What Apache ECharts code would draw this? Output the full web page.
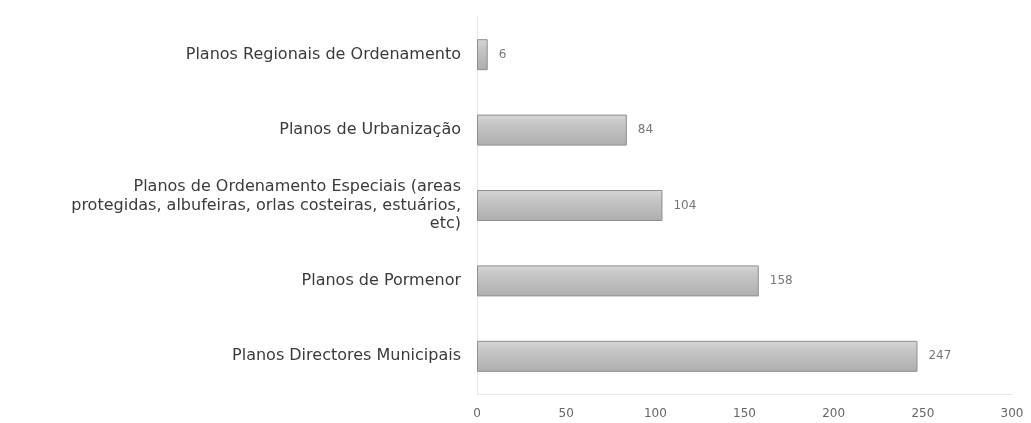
<!DOCTYPE html>
<html>
<head>
<meta charset="utf-8">
<script src="https://cdn.jsdelivr.net/npm/echarts@6/dist/echarts.min.js"></script>
<style>
html,body{margin:0;padding:0;background:#fff;}
#chart{width:1031px;height:423px;}
</style>
</head>
<body>
<div id="chart"></div>
<script>
// categories bottom to top
var categories = [
	'Planos Directores Municipais',
	'Planos de Pormenor',
	'Planos de Ordenamento Especiais (areas\nprotegidas, albufeiras, orlas costeiras, estuários,\netc)',
	'Planos de Urbanização',
	'Planos Regionais de Ordenamento'
];
var values = [247, 158, 104, 84, 6];
var xTicks = [0, 50, 100, 150, 200, 250, 300];

var chart = echarts.init(document.getElementById('chart'));
chart.setOption({
	animation: false,
	grid: {left: 477, right: 19, top: 17, bottom: 29},
	xAxis: {
		type: 'value',
		min: xTicks[0],
		max: xTicks[xTicks.length - 1],
		interval: 50,
		axisLine: {show: true, lineStyle: {color: '#e6e6e6'}},
		axisTick: {show: false},
		splitLine: {show: false},
		axisLabel: {color: '#666', fontSize: 12, fontFamily: 'DejaVu Sans', margin: 14}
	},
	yAxis: {
		type: 'category',
		data: categories,
		axisLine: {show: true, lineStyle: {color: '#e6e6e6'}},
		axisTick: {show: false},
		axisLabel: {
			color: '#3a3a3a', fontSize: 16, fontFamily: 'DejaVu Sans',
			margin: 16, align: 'right', lineHeight: 18.5
		}
	},
	series: [{
		type: 'bar',
		data: values,
		barWidth: 31,
		itemStyle: {
			color: new echarts.graphic.LinearGradient(0, 0, 0, 1, [
				{offset: 0, color: '#d6d6d6'},
				{offset: 0.3, color: '#c6c6c6'},
				{offset: 1, color: '#aeaeae'}
			]),
			borderColor: '#8e8e8e',
			borderWidth: 1
		},
		label: {
			show: true, position: 'right', distance: 11,
			color: '#777', fontSize: 12, fontFamily: 'DejaVu Sans'
		}
	}]
});
</script>
</body>
</html>
